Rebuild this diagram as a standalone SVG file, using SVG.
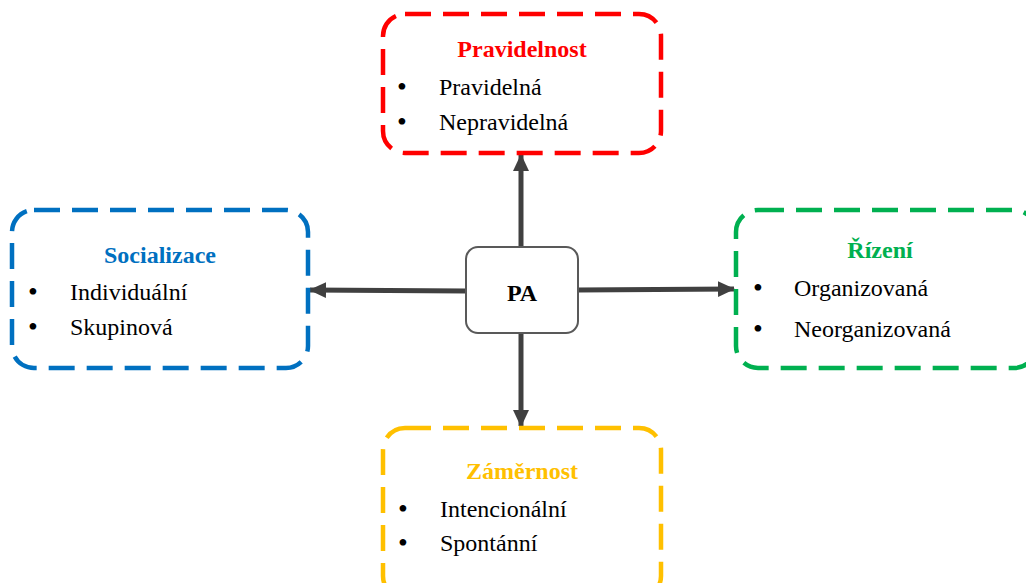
<svg xmlns="http://www.w3.org/2000/svg" width="1026" height="583" viewBox="0 0 1026 583">
<style>
.box{fill:#fff;stroke-width:4.5;stroke-dasharray:26 12}
.t{font-family:"Liberation Serif","Times New Roman",serif;font-size:24px;fill:#000}
.b{font-size:28px}
.h{font-weight:bold;text-anchor:middle}
.c{fill:none;stroke:#404040;stroke-width:5}
</style>
<defs>
<marker id="ah" markerUnits="userSpaceOnUse" markerWidth="18" markerHeight="18" viewBox="0 0 18 18" refX="16" refY="9" orient="auto">
<path d="M0,1 L17,9 L0,17 Z" fill="#404040"/>
</marker>
</defs>
<g id="connectors">
<line class="c" x1="521" y1="247" x2="521" y2="155" marker-end="url(#ah)"/>
<line class="c" x1="521" y1="333" x2="521" y2="426" marker-end="url(#ah)"/>
<line class="c" x1="466" y1="291" x2="310" y2="290" marker-end="url(#ah)"/>
<line class="c" x1="578" y1="290" x2="734" y2="289" marker-end="url(#ah)"/>
</g>
<g id="pravidelnost">
<rect class="box" x="383" y="14" width="278" height="139" rx="22" stroke="#FF0000"/>
<text class="t h" x="522" y="57" style="fill:#FF0000">Pravidelnost</text>
<text class="t b" x="397" y="96">•</text><text class="t" x="439" y="95">Pravidelná</text>
<text class="t b" x="397" y="131">•</text><text class="t" x="439" y="130">Nepravidelná</text>
</g>
<g id="socializace">
<rect class="box" x="12" y="210" width="296" height="158" rx="22" stroke="#0070C0"/>
<text class="t h" x="160" y="263" style="fill:#0070C0">Socializace</text>
<text class="t b" x="28" y="301">•</text><text class="t" x="70" y="300">Individuální</text>
<text class="t b" x="28" y="336">•</text><text class="t" x="70" y="335">Skupinová</text>
</g>
<g id="rizeni">
<rect class="box" x="736" y="210" width="300" height="158" rx="22" stroke="#00B050"/>
<text class="t h" x="880" y="258" style="fill:#00B050">Řízení</text>
<text class="t b" x="753" y="297">•</text><text class="t" x="794" y="296">Organizovaná</text>
<text class="t b" x="753" y="338">•</text><text class="t" x="794" y="337">Neorganizovaná</text>
</g>
<g id="zamernost">
<rect class="box" x="383" y="428" width="278" height="170" rx="22" stroke="#FFC000"/>
<text class="t h" x="522" y="479" style="fill:#FFC000">Záměrnost</text>
<text class="t b" x="398" y="518">•</text><text class="t" x="440" y="517">Intencionální</text>
<text class="t b" x="398" y="552">•</text><text class="t" x="440" y="551">Spontánní</text>
</g>
<g id="pa">
<rect x="466" y="247" width="112" height="86" rx="12" fill="#fff" stroke="#595959" stroke-width="2"/>
<text class="t h" x="522" y="301">PA</text>
</g>
</svg>
